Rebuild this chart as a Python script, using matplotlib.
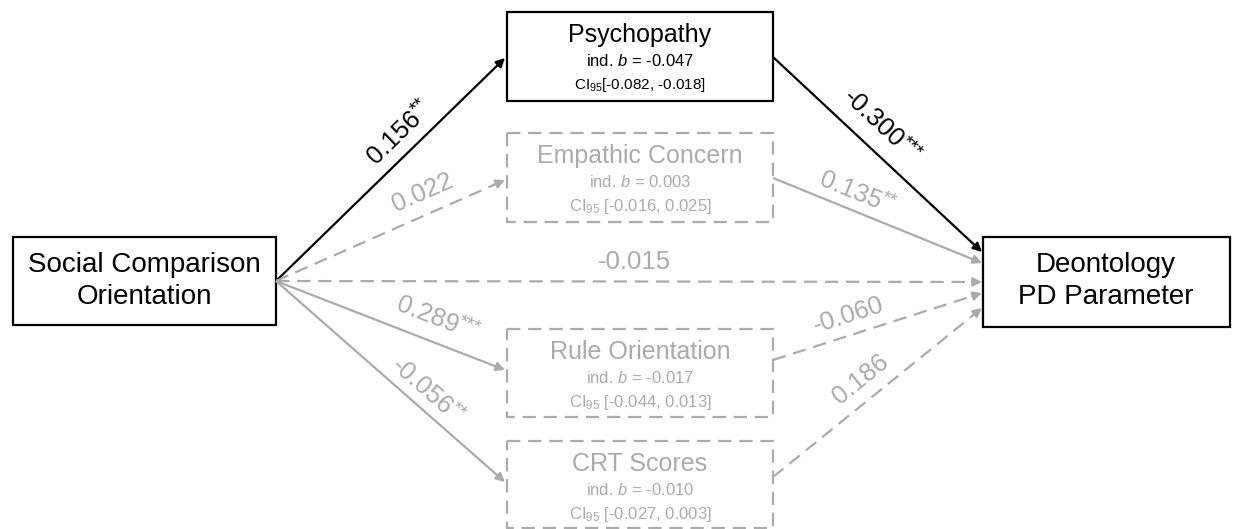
import math
import matplotlib
matplotlib.use("Agg")
import matplotlib.pyplot as plt
from matplotlib.patches import Rectangle
from matplotlib.font_manager import FontProperties
from matplotlib.textpath import TextToPath

plt.rcParams['font.family'] = ['Liberation Sans', 'DejaVu Sans']
plt.rcParams['mathtext.fontset'] = 'custom'
plt.rcParams['mathtext.rm'] = 'Liberation Sans'
plt.rcParams['mathtext.it'] = 'Liberation Sans:italic'

# data
predictor = "Social Comparison\nOrientation"
outcome = "Deontology\nPD Parameter"
mediators = ["Psychopathy", "Empathic Concern", "Rule Orientation", "CRT Scores"]
ind_b = ["-0.047", "0.003", "-0.017", "-0.010"]
ci_low = ["-0.082", "-0.016", "-0.044", "-0.027"]
ci_high = ["-0.018", "0.025", "0.013", "0.003"]
ci_gap = ["", " ", " ", " "]
a_paths = ["0.156", "0.022", "0.289", "-0.056"]
a_stars = ["**", "", "***", "**"]
b_paths = ["-0.300", "0.135", "-0.060", "0.186"]
b_stars = ["***", "**", "", ""]
direct_path = "-0.015"
significant = [True, False, False, False]

# layout (pixels)
W, H = 1235, 529
BLACK = "#000000"
GRAY = "#ababab"
LAB_SIZE = 18.5
STAR_SIZE = 14
med_x0, med_x1 = 507, 773
med_y = [(12, 101), (133, 222), (329, 417), (441, 528)]
a_tip_y = [58, 180, 370, 482]
b_start_y = [57, 178, 360, 477]
b_tip_y = [252, 263, 293, 308]
src = (276, 281)
out_x = 983
a_lab = [(400, 132), (423, 193), (438, 319), (428, 392)]
b_lab = [(882, 127), (858, 194), (848, 315), (861, 379)]

fig = plt.figure(figsize=(W / 100, H / 100), dpi=100)
ax = fig.add_axes([0, 0, 1, 1])
ax.set_xlim(0, W)
ax.set_ylim(H, 0)
ax.axis("off")

t2p = TextToPath()


def text_w(s, size):
    w, _, _ = t2p.get_text_width_height_descent(
        s, FontProperties(family="Liberation Sans", size=size), ismath=False)
    return w * 100 / 72


def arrow(p0, p1, color, dashed):
    ls = (0, (6, 3.5)) if dashed else "-"
    dx, dy = p1[0] - p0[0], p1[1] - p0[1]
    d = math.hypot(dx, dy)
    back = (p1[0] - dx / d * 10, p1[1] - dy / d * 10)
    ax.plot([p0[0], back[0]], [p0[1], back[1]], color=color, lw=1.6,
            ls=ls, solid_capstyle="butt", zorder=2)
    ax.annotate("", xy=p1, xytext=back,
                arrowprops=dict(arrowstyle="-|>", color=color, lw=1.6,
                                mutation_scale=13, shrinkA=0, shrinkB=0),
                zorder=3)


def angle(p0, p1):
    return math.degrees(math.atan2(-(p1[1] - p0[1]), p1[0] - p0[0]))


def label(pos, txt, stars, color, rot):
    # number and superscript stars as two texts along the rotated baseline
    nw = text_w(txt, LAB_SIZE)
    sw = text_w(stars, STAR_SIZE) if stars else 0
    tot = nw + sw
    th = math.radians(rot)
    ux, uy = math.cos(th), -math.sin(th)
    vx, vy = -math.sin(th), -math.cos(th)
    c = nw / 2 - tot / 2
    ax.text(pos[0] + ux * c, pos[1] + uy * c, txt, color=color,
            fontsize=LAB_SIZE, rotation=rot, rotation_mode="anchor",
            ha="center", va="center", zorder=4)
    if stars:
        c = nw + sw / 2 - tot / 2 - 1
        ax.text(pos[0] + ux * c + vx * 6, pos[1] + uy * c + vy * 6, stars,
                color=color, fontsize=STAR_SIZE, rotation=rot,
                rotation_mode="anchor", ha="center", va="center", zorder=4)


# end nodes
ax.add_patch(Rectangle((13, 237), 263, 88, fill=False, ec=BLACK, lw=1.6))
ax.text(144, 281, predictor, fontsize=20, ha="center", va="center",
        linespacing=1.25)
ax.add_patch(Rectangle((983, 237), 247, 90, fill=False, ec=BLACK, lw=1.6))
ax.text(1106, 281, outcome, fontsize=20, ha="center", va="center",
        linespacing=1.25)

# mediators
for i, name in enumerate(mediators):
    col = BLACK if significant[i] else GRAY
    y0, y1 = med_y[i]
    ax.add_patch(Rectangle((med_x0, y0), med_x1 - med_x0, y1 - y0, fill=False,
                           ec=col, lw=1.6,
                           ls="-" if significant[i] else (0, (6, 3.5))))
    cx = (med_x0 + med_x1) / 2
    ax.text(cx, y0 + 23, name, fontsize=18, color=col, ha="center", va="center")
    ax.text(cx, y0 + 49, "ind. $b$ = " + ind_b[i], fontsize=12, color=col,
            ha="center", va="center")
    ci_size = 11 if significant[i] else 12
    ax.text(cx, y0 + 73, "CI$_{95}$" + ci_gap[i] + "[" + ci_low[i] + ", " + ci_high[i] + "]",
            fontsize=ci_size, color=col, ha="center", va="center")

    # a path
    tip = (med_x0 - 2, a_tip_y[i])
    acol = BLACK if significant[i] else GRAY
    arrow(src, tip, acol, a_stars[i] == "")
    label(a_lab[i], a_paths[i], a_stars[i], acol, angle(src, tip))

    # b path
    start = (med_x1, b_start_y[i])
    btip = (out_x - 1, b_tip_y[i])
    arrow(start, btip, acol, b_stars[i] == "")
    label(b_lab[i], b_paths[i], b_stars[i], acol, angle(start, btip))

# direct path
arrow(src, (out_x - 1, 282), GRAY, True)
ax.text(634, 262, direct_path, fontsize=LAB_SIZE, color=GRAY, ha="center", va="center")

fig.savefig("out.png", dpi=100)
